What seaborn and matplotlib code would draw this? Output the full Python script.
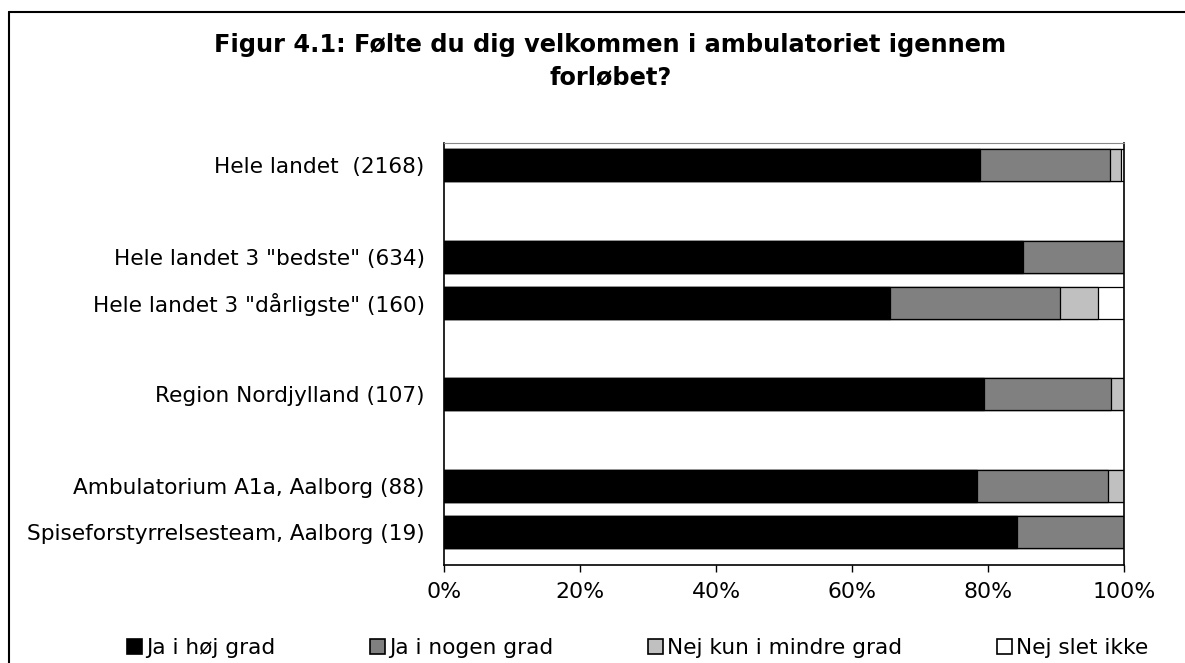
import numpy as np
import pandas as pd
import matplotlib
matplotlib.use("Agg")
import matplotlib.pyplot as plt
from matplotlib.patches import Patch
from matplotlib.lines import Line2D
import seaborn as sns

# ---- data ----
categories = [
    'Hele landet  (2168)',
    'Hele landet 3 "bedste" (634)',
    'Hele landet 3 "dårligste" (160)',
    'Region Nordjylland (107)',
    'Ambulatorium A1a, Aalborg (88)',
    'Spiseforstyrrelsesteam, Aalborg (19)',
]
row_order = [categories[0], '_b1', categories[1], categories[2], '_b2',
             categories[3], '_b3', categories[4], categories[5]]
series_names = ['Ja i høj grad', 'Ja i nogen grad', 'Nej kun i mindre grad', 'Nej slet ikke']
ja_hoj = [78.8, 85.2, 65.6, 79.4, 78.4, 84.2]
ja_nogen = [19.1, 14.8, 25.0, 18.7, 19.3, 15.8]
nej_mindre = [1.7, 0.0, 5.6, 1.9, 2.3, 0.0]
nej_slet = [0.4, 0.0, 3.8, 0.0, 0.0, 0.0]
x_ticks = [0, 20, 40, 60, 80, 100]
x_ticklabels = ['0%', '20%', '40%', '60%', '80%', '100%']

colors = ['#000000', '#808080', '#C0C0C0', '#FFFFFF']

sns.set_theme(style="white")
plt.rcParams['font.family'] = ['DejaVu Sans']
plt.rcParams['text.color'] = 'black'
plt.rcParams['xtick.color'] = 'black'
plt.rcParams['ytick.color'] = 'black'

fig = plt.figure(figsize=(11.85, 6.63), dpi=100)
ax = fig.add_axes([444 / 1185, 1 - 565 / 663, 680 / 1185, (565 - 143) / 663])

df = pd.DataFrame({'cat': categories,
                   's1': ja_hoj, 's2': ja_nogen, 's3': nej_mindre, 's4': nej_slet})
cum = df[['s1', 's2', 's3', 's4']].cumsum(axis=1)

# draw from the outermost cumulative layer inwards
for i in range(3, -1, -1):
    col = ['s1', 's2', 's3', 's4'][i]
    d = pd.DataFrame({'cat': df['cat'], 'val': cum[col]})
    sns.barplot(data=d, y='cat', x='val', order=row_order, orient='h',
                color=colors[i], saturation=1, width=0.7,
                edgecolor='black', linewidth=0.9, ax=ax, errorbar=None)

ax.set_xlim(0, 100)
ax.set_ylim(8.72, -0.48)
ax.set_xticks(x_ticks)
ax.set_xticklabels(x_ticklabels, fontsize=15.8)
ax.set_yticks(range(len(row_order)))
ax.set_yticklabels(['' if r.startswith('_b') else r for r in row_order], fontsize=15.6)
ax.set_xlabel('')
ax.set_ylabel('')
ax.tick_params(axis='x', direction='out', length=5, width=1, color='black', pad=7,
               bottom=True, labelcolor='black')
ax.tick_params(axis='y', length=0, pad=14, labelcolor='black')
for s in ['left', 'bottom', 'right']:
    ax.spines[s].set_color('black')
    ax.spines[s].set_linewidth(1.2)
ax.spines['top'].set_color('#888888')
ax.spines['top'].set_linewidth(0.8)
ax.grid(False)

# title
fig.text(0.515, 1 - 45 / 663,
         'Figur 4.1: Følte du dig velkommen i ambulatoriet igennem',
         ha='center', va='center', fontsize=17.3, fontweight='bold', color='black')
fig.text(0.515, 1 - 77 / 663, 'forløbet?',
         ha='center', va='center', fontsize=17.3, fontweight='bold', color='black')

# legend
handles = [Patch(facecolor=c, edgecolor='black', linewidth=1.2) for c in colors]
leg = fig.legend(handles, series_names, loc='center', bbox_to_anchor=(0.538, 1 - 648 / 663),
                 ncol=4, frameon=False, fontsize=15.6, handlelength=0.7, handleheight=0.7,
                 handletextpad=0.2, columnspacing=4.35, borderaxespad=0)
for t in leg.get_texts():
    t.set_color('black')

# outer frame (top and left edges)
fig.add_artist(Line2D([9 / 1185, 9 / 1185], [0, 1 - 12 / 663], transform=fig.transFigure,
                      color='black', linewidth=1.5))
fig.add_artist(Line2D([9 / 1185, 1], [1 - 12 / 663, 1 - 12 / 663], transform=fig.transFigure,
                      color='black', linewidth=1.5))

fig.savefig('out.png', dpi=100, facecolor='white')
